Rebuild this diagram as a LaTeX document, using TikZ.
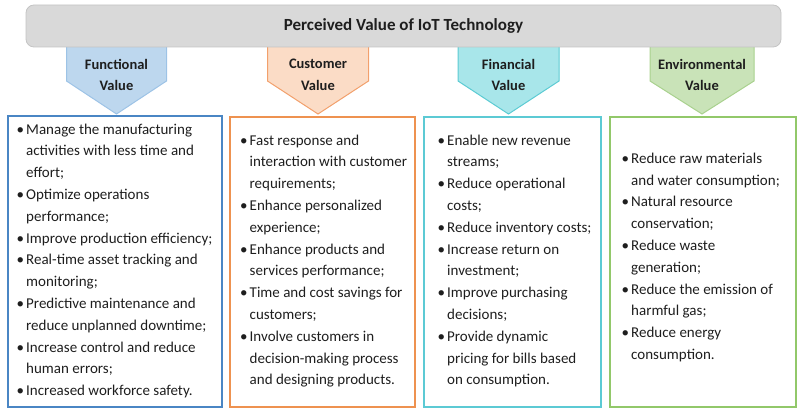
\documentclass[tikz,border=0pt]{standalone}
\usepackage{fontspec}
\setmainfont{Carlito}
\definecolor{barfill}{HTML}{D9D9D9}
\definecolor{bardraw}{HTML}{C4C4C4}
\definecolor{bluefill}{HTML}{BDD7EE}
\definecolor{bluepent}{HTML}{9DC3E6}
\definecolor{bluebox}{HTML}{4A86C4}
\definecolor{orfill}{HTML}{FBDCC6}
\definecolor{orpent}{HTML}{F2A06C}
\definecolor{orbox}{HTML}{EE9250}
\definecolor{cyfill}{HTML}{A8E6EA}
\definecolor{cypent}{HTML}{5CCBD3}
\definecolor{cybox}{HTML}{5CCAD4}
\definecolor{grfill}{HTML}{C9E3B8}
\definecolor{grpent}{HTML}{A9D18E}
\definecolor{grbox}{HTML}{92C86A}
\definecolor{txt}{HTML}{1E1E1E}
\newcommand\bl{\makebox[9.5pt][l]{•}}
\newcommand\cl{\hspace*{9.5pt}}
\begin{document}
\begin{tikzpicture}[x=1pt,y=-1pt,
  titlebar/.style={draw=bardraw, fill=barfill, line width=0.8pt, rounded corners=8pt,
    minimum width=755pt, minimum height=42pt, text=txt, font=\fontsize{17}{20}\selectfont\bfseries},
  pentshape/.style={line width=1pt},
  headtext/.style={align=center, inner sep=0pt, text=txt, font=\fontsize{14.5}{21.8}\selectfont\bfseries},
  valbox/.style={line width=1.8pt, anchor=north west, minimum height=290pt, inner sep=0pt},
  listtext/.style={align=left, anchor=west, inner sep=0pt, text=txt, font=\fontsize{15}{21.8}\selectfont}
]
\useasboundingbox (0,0) rectangle (800,411);
% pentagons
\draw[pentshape, fill=bluefill, draw=bluepent] (66.5,45) -- (166.5,45) -- (166.5,81) -- (116.5,114) -- (66.5,81) -- cycle;
\draw[pentshape, fill=orfill, draw=orpent] (267.5,45) -- (368.5,45) -- (368.5,81) -- (318,114) -- (267.5,81) -- cycle;
\draw[pentshape, fill=cyfill, draw=cypent] (458,45) -- (559,45) -- (559,81) -- (508.5,114) -- (458,81) -- cycle;
\draw[pentshape, fill=grfill, draw=grpent] (650,45) -- (754,45) -- (754,81) -- (702,114) -- (650,81) -- cycle;
% title bar
\node[titlebar] (title) at (403.5,26) {Perceived Value of IoT Technology};
% headers
\node[headtext] (hf) at (116.5,75) {Functional\\Value};
\node[headtext] (hc) at (318,75) {Customer\\Value};
\node[headtext] (hfi) at (508.5,75) {Financial\\Value};
\node[headtext] (he) at (702,75) {Environmental\\Value};
% boxes
\node[valbox, draw=bluebox, minimum width=214pt, minimum height=291pt] (fbox) at (7,115) {};
\node[valbox, draw=orbox, minimum width=185pt] (cbox) at (229,116) {};
\node[valbox, draw=cybox, minimum width=177pt] (fibox) at (423,116) {};
\node[valbox, draw=grbox, minimum width=186pt] (ebox) at (609,116) {};
% lists
\node[listtext] (ft) at (16.5,261) {\bl Manage the manufacturing\\
\cl activities with less time and\\
\cl effort;\\
\bl Optimize operations\\
\cl performance;\\
\bl Improve production efficiency;\\
\bl Real-time asset tracking and\\
\cl monitoring;\\
\bl Predictive maintenance and\\
\cl reduce unplanned downtime;\\
\bl Increase control and reduce\\
\cl human errors;\\
\bl Increased workforce safety.};
\node[listtext] (ct) at (240,261) {\bl Fast response and\\
\cl interaction with customer\\
\cl requirements;\\
\bl Enhance personalized\\
\cl experience;\\
\bl Enhance products and\\
\cl services performance;\\
\bl Time and cost savings for\\
\cl customers;\\
\bl Involve customers in\\
\cl decision-making process\\
\cl and designing products.};
\node[listtext] (fit) at (437.5,261) {\bl Enable new revenue\\
\cl streams;\\
\bl Reduce operational\\
\cl costs;\\
\bl Reduce inventory costs;\\
\bl Increase return on\\
\cl investment;\\
\bl Improve purchasing\\
\cl decisions;\\
\bl Provide dynamic\\
\cl pricing for bills based\\
\cl on consumption.};
\node[listtext] (et) at (621.5,257.5) {\bl Reduce raw materials\\
\cl and water consumption;\\
\bl Natural resource\\
\cl conservation;\\
\bl Reduce waste\\
\cl generation;\\
\bl Reduce the emission of\\
\cl harmful gas;\\
\bl Reduce energy\\
\cl consumption.};
\end{tikzpicture}
\end{document}
